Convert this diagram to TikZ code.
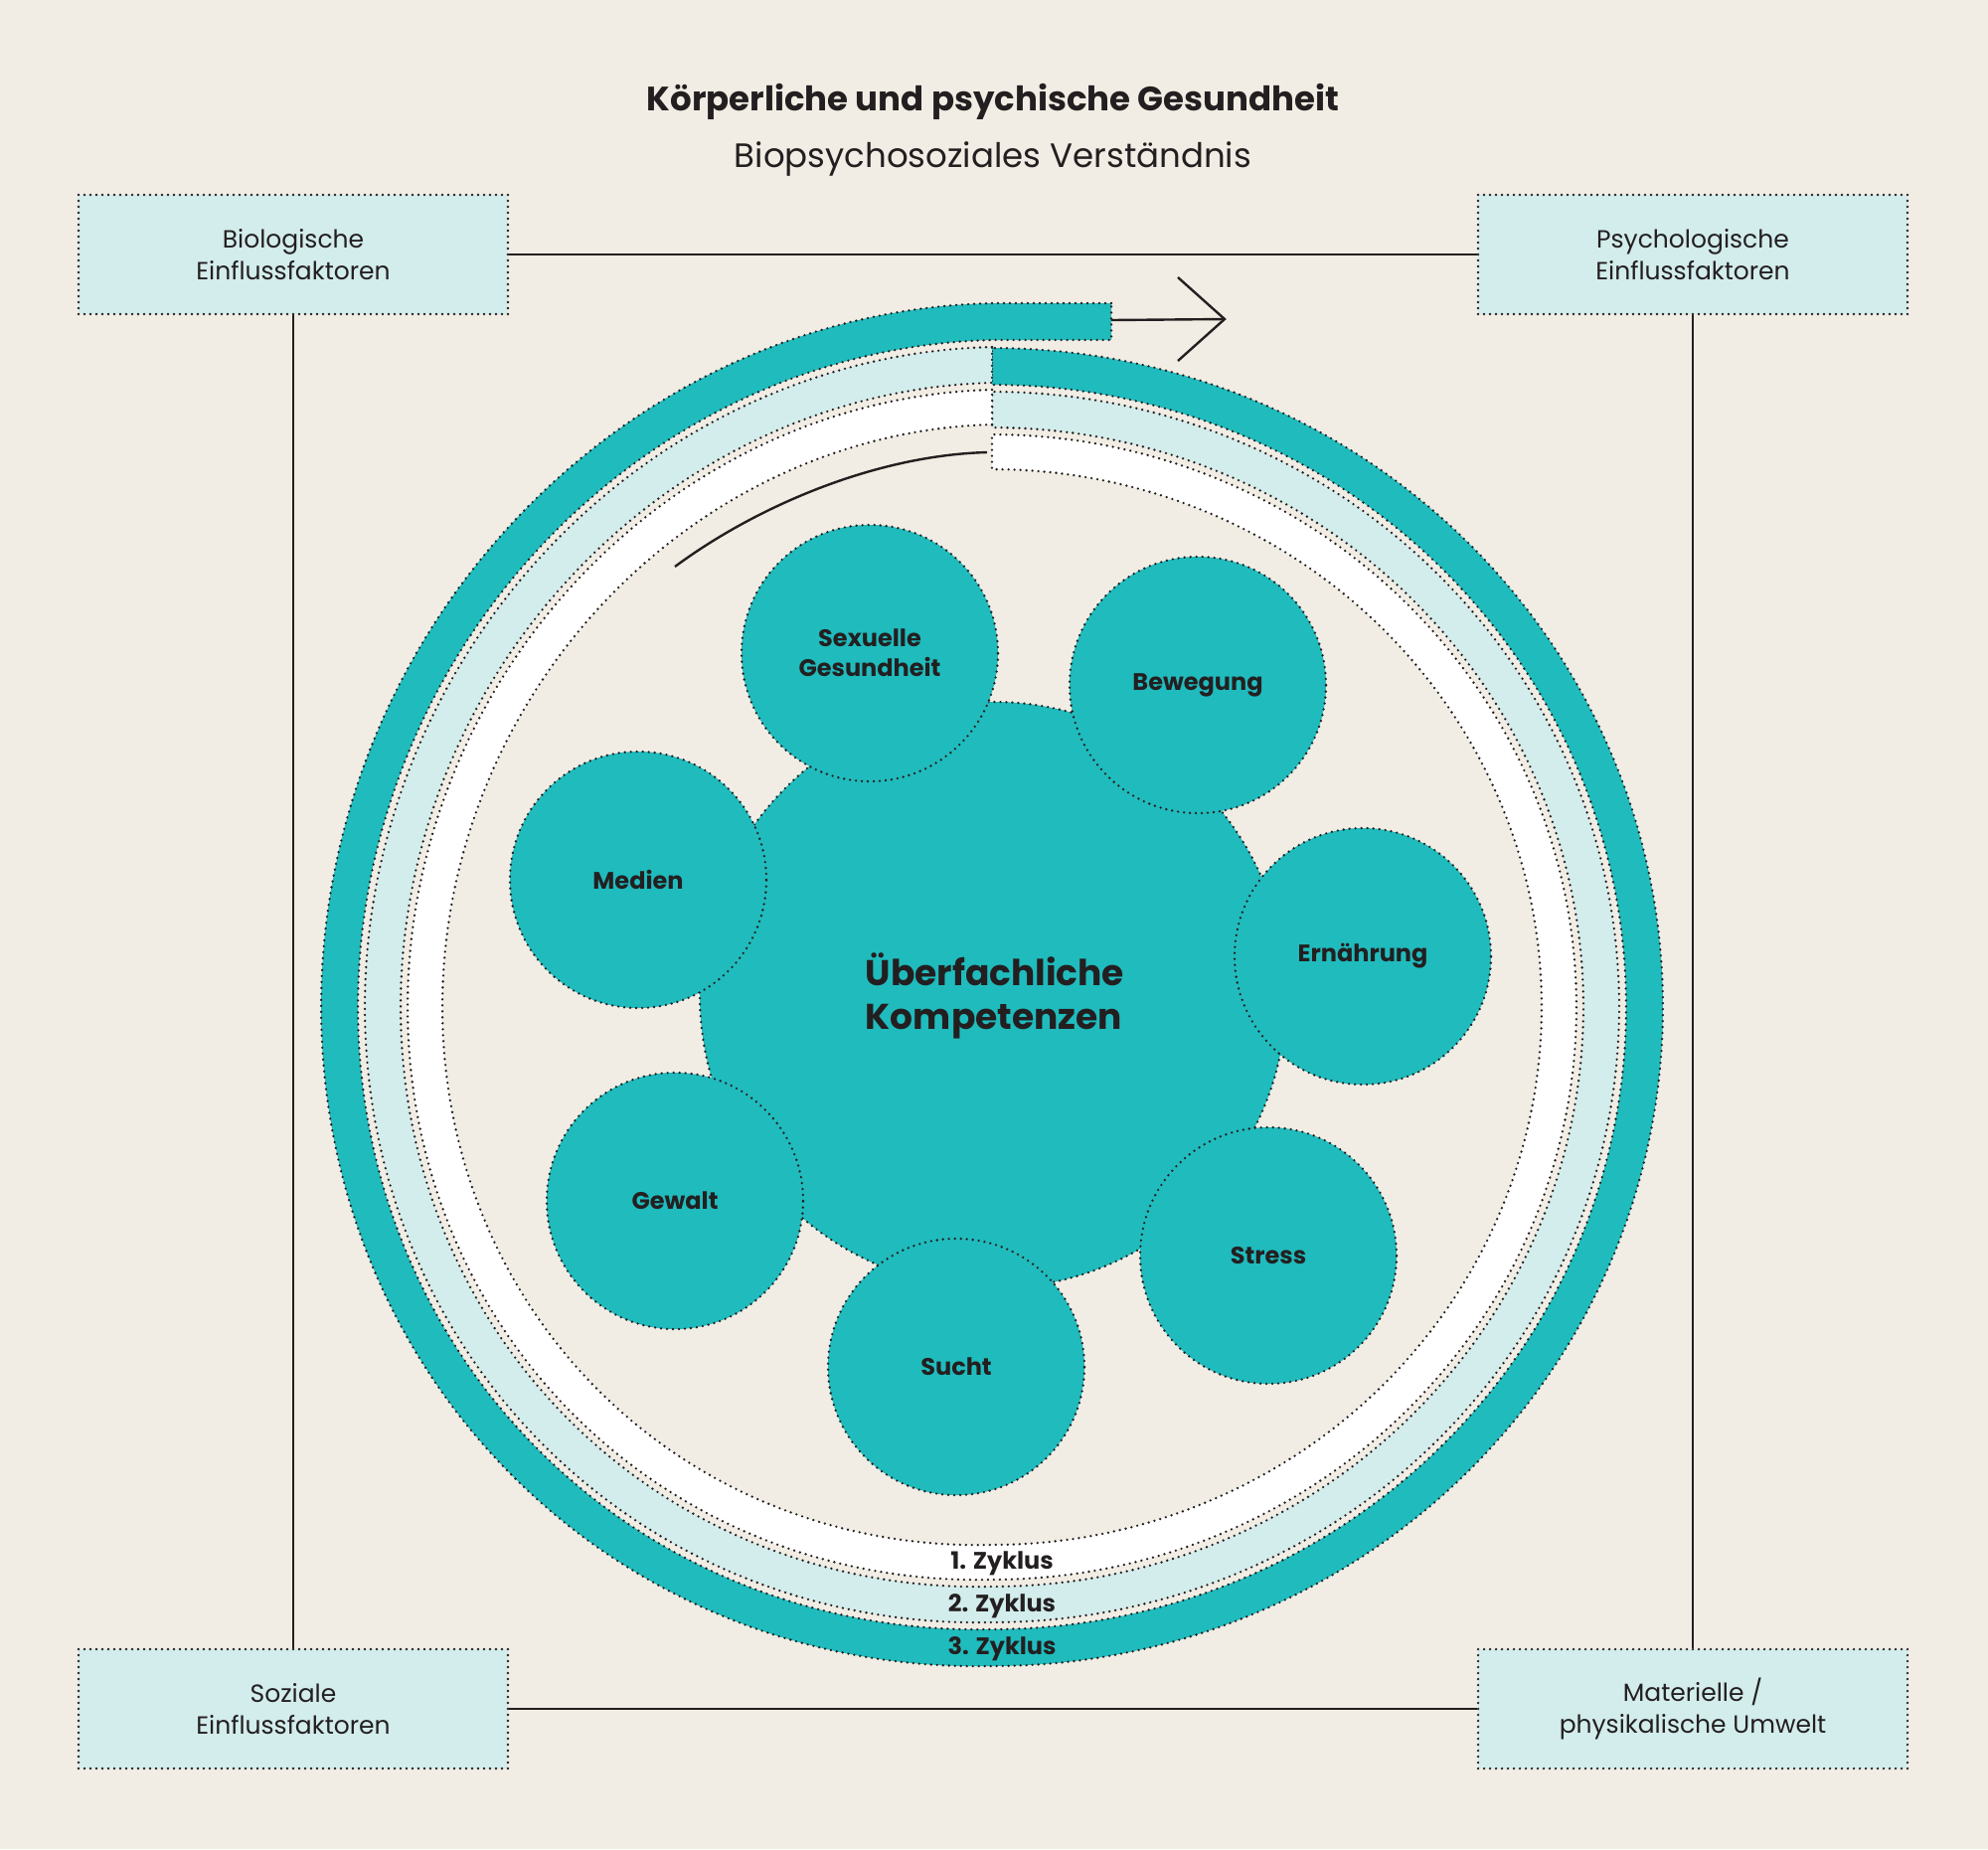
\documentclass[tikz,border=0pt]{standalone}
\usepackage{fontspec}
\setmainfont{Poppins}
\usetikzlibrary{positioning}
\definecolor{bgbeige}{HTML}{F1EDE4}
\definecolor{zteal}{HTML}{20BBBD}
\definecolor{zlight}{HTML}{D3ECEC}
\definecolor{zdark}{HTML}{231F20}
\tikzset{
  dots/.style={draw=zdark,line width=1.3pt,dash pattern=on 0pt off 3pt,line cap=round},
  factor/.style={dots,fill=zlight,minimum width=216pt,minimum height=60pt,align=center,font=\fontsize{12.5}{16}\selectfont,text=zdark},
  topic/.style={dots,circle,fill=zteal,minimum size=129pt,align=center,font=\bfseries\fontsize{12}{15}\selectfont,text=zdark,inner sep=0pt},
  link/.style={draw=zdark,line width=1.2pt},
}
% one turn of a cycle band (fill, outer offset, inner offset, end of tail)
\newcommand{\zyklusband}[4]{%
  \path[dots,fill=#1] ({#4},{305+#2})
    -- plot[domain=90:270] ({998+(675-#2)*cos(\x)},{1013-(663-#2+45*(270-\x)/180)*sin(\x)})
    -- plot[domain=270:450] ({998+(675-#2)*cos(\x)},{1013-(663-#2)*sin(\x)})
    -- plot[domain=450:270] ({998+(675-#3)*cos(\x)},{1013-(663-#3)*sin(\x)})
    -- plot[domain=270:90] ({998+(675-#3)*cos(\x)},{1013-(663-#3+45*(270-\x)/180)*sin(\x)})
    -- ({#4},{305+#3}) -- cycle;}
\begin{document}
\begin{tikzpicture}[x=0.5pt,y=-0.5pt,samples=120]
  \fill[bgbeige] (0,0) rectangle (2000,1860);
  \useasboundingbox (0,0) rectangle (2000,1860);

  \node[font=\bfseries\fontsize{17}{20}\selectfont,text=zdark] (title) at (999,102) {Körperliche und psychische Gesundheit};
  \node[font=\fontsize{17}{20}\selectfont,text=zdark,below=4pt of title] (subtitle) {Biopsychosoziales Verständnis};

  \node[factor] (bio) at (295,256) {Biologische\\Einflussfaktoren};
  \node[factor] (psy) at (1703,256) {Psychologische\\Einflussfaktoren};
  \node[factor] (soz) at (295,1719) {Soziale\\Einflussfaktoren};
  \node[factor] (mat) at (1703,1719) {Materielle /\\physikalische Umwelt};

  \draw[link] (bio) -- (psy);
  \draw[link] (psy) -- (mat);
  \draw[link] (mat) -- (soz);
  \draw[link] (soz) -- (bio);

  \zyklusband{zteal}{0}{37}{1118}
  \zyklusband{zlight}{44}{80}{998}
  \zyklusband{white}{87}{122}{998}

  \node[font=\bfseries\fontsize{12}{14}\selectfont,text=zdark] (z1) at (1008,1573) {1. Zyklus};
  \node[font=\bfseries\fontsize{12}{14}\selectfont,text=zdark] (z2) at (1008,1616) {2. Zyklus};
  \node[font=\bfseries\fontsize{12}{14}\selectfont,text=zdark] (z3) at (1008,1659) {3. Zyklus};

  % arrow out of the third cycle
  \coordinate (tail) at (1118,322);
  \coordinate (tip) at (1232,321);
  \coordinate (wingup) at (1185,279);
  \coordinate (wingdown) at (1185,363);
  \draw[link] (tail) -- (tip);
  \draw[link] (wingup) -- (tip) -- (wingdown);

  % turning arrow inside
  \coordinate (turnstart) at (993,455);
  \coordinate (turnend) at (679,570);
  \draw[link] (turnstart) .. controls (880,458) and (760,510) .. (turnend);

  \node[circle,dots,fill=zteal,minimum size=295pt] (core) at (999,1001) {};
  \node[topic] (sex) at (875,657) {Sexuelle\\Gesundheit};
  \node[topic] (bew) at (1205,689) {Bewegung};
  \node[topic] (ern) at (1371,962) {Ernährung};
  \node[topic] (str) at (1276,1263) {Stress};
  \node[topic] (such) at (962,1375) {Sucht};
  \node[topic] (gew) at (679,1208) {Gewalt};
  \node[topic] (med) at (642,885) {Medien};
  \node[font=\bfseries\fontsize{18}{22}\selectfont,text=zdark,align=left] (kern) at (1001,1002) {Überfachliche\\Kompetenzen};
\end{tikzpicture}
\end{document}
